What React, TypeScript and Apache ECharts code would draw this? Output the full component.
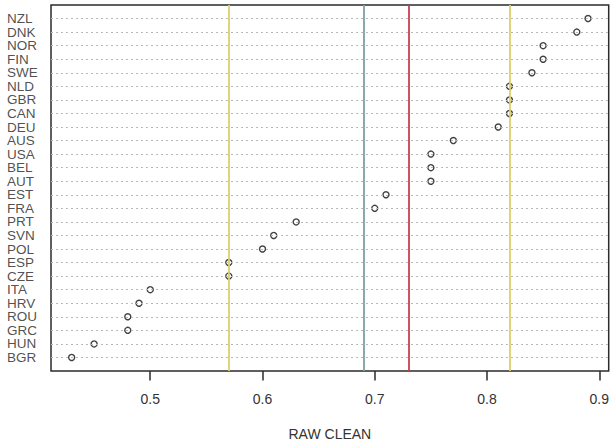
import React, { useEffect, useRef } from "react";
import * as echarts from "echarts";

// Countries listed top to bottom
const countries = [
  "NZL", "DNK", "NOR", "FIN", "SWE", "NLD", "GBR", "CAN", "DEU", "AUS", "USA", "BEL", "AUT",
  "EST", "FRA", "PRT", "SVN", "POL", "ESP", "CZE", "ITA", "HRV", "ROU", "GRC", "HUN", "BGR",
];
const rawClean = [
  0.89, 0.88, 0.85, 0.85, 0.84, 0.82, 0.82, 0.82, 0.81, 0.77, 0.75, 0.75, 0.75,
  0.71, 0.70, 0.63, 0.61, 0.60, 0.57, 0.57, 0.50, 0.49, 0.48, 0.48, 0.45, 0.43,
];
const xTickValues = [0.5, 0.6, 0.7, 0.8, 0.9];
// Reference lines: lower quartile, mean, median, upper quartile
const refValues = [0.57, 0.6854, 0.73, 0.82];
const refColors = ["#dccf6e", "#7f9fa6", "#c9404f", "#dccf6e"];
const xAxisTitle = "RAW CLEAN";

const FONT = "'Liberation Sans', Arial, sans-serif";

export default function App() {
  const ref = useRef<HTMLDivElement>(null);

  useEffect(() => {
    if (!ref.current) return;
    const chart = echarts.init(ref.current, undefined, { renderer: "svg" });
    const n = countries.length;
    const dMin = Math.min(...rawClean);
    const dMax = Math.max(...rawClean);
    const pad = (dMax - dMin) * 0.04;
    const xMin = dMin - pad;
    const rows = countries.map((_, i) => n - i);
    const points = countries.map((c, i) => [rawClean[i], n - i]);
    const labelPoints = countries.map((c, i) => ({ value: [xMin, n - i], name: c }));

    chart.setOption({
      animation: false,
      backgroundColor: "#ffffff",
      grid: {
        left: 51,
        right: -2,
        top: 5,
        bottom: 72.7,
        show: true,
        borderColor: "#2b2b2b",
        borderWidth: 1.5,
        backgroundColor: "transparent",
      },
      xAxis: {
        type: "value",
        min: xMin,
        max: dMax + pad,
        axisLine: { show: false },
        splitLine: { show: false },
        axisTick: {
          show: true,
          customValues: xTickValues,
          length: 9.5,
          lineStyle: { color: "#2b2b2b", width: 1.5 },
        },
        axisLabel: {
          customValues: xTickValues,
          formatter: (v: number) => String(Math.round(v * 10) / 10),
          margin: 21,
          showMinLabel: true,
          showMaxLabel: true,
          hideOverlap: false,
          fontFamily: FONT,
          fontSize: 14,
          color: "#333333",
        },
        name: xAxisTitle,
        nameLocation: "middle",
        nameGap: 56,
        nameTextStyle: { fontFamily: FONT, fontSize: 14, color: "#333333" },
      },
      yAxis: {
        type: "value",
        min: 0,
        max: n + 1,
        axisLine: { show: false },
        axisTick: { show: false },
        splitLine: { show: false },
        axisLabel: { show: false },
      },
      series: [
        {
          type: "scatter",
          data: [],
          z: 1,
          silent: true,
          markLine: {
            silent: true,
            symbol: ["none", "none"],
            label: { show: false },
            lineStyle: { type: [2, 3], color: "#b8b8b8", width: 1 },
            data: rows.map((r) => ({ yAxis: r })),
          },
        },
        {
          type: "scatter",
          data: [],
          z: 2,
          silent: true,
          markLine: {
            silent: true,
            symbol: ["none", "none"],
            label: { show: false },
            data: refValues.map((v, i) => ({
              xAxis: v,
              lineStyle: { type: "solid", color: refColors[i], width: 1.8 },
            })),
          },
        },
        {
          type: "scatter",
          z: 3,
          data: points,
          symbol: "circle",
          symbolSize: 6,
          itemStyle: {
            color: "rgba(0,0,0,0)",
            borderColor: "#111111",
            borderWidth: 1.4,
          },
        },
        {
          type: "scatter",
          z: 4,
          silent: true,
          clip: false,
          data: labelPoints,
          symbolSize: 0,
          itemStyle: { color: "rgba(0,0,0,0)" },
          labelLayout: { hideOverlap: false },
          label: {
            show: true,
            position: [-44, 0],
            align: "left",
            verticalAlign: "middle",
            formatter: (p: any) => p.name,
            fontFamily: FONT,
            fontSize: 13.5,
            color: "#222222",
          },
        },
      ],
    });
    return () => chart.dispose();
  }, []);

  return (
    <div
      ref={ref}
      style={{ position: "fixed", left: 0, top: 0, width: 612, height: 446 }}
    />
  );
}
